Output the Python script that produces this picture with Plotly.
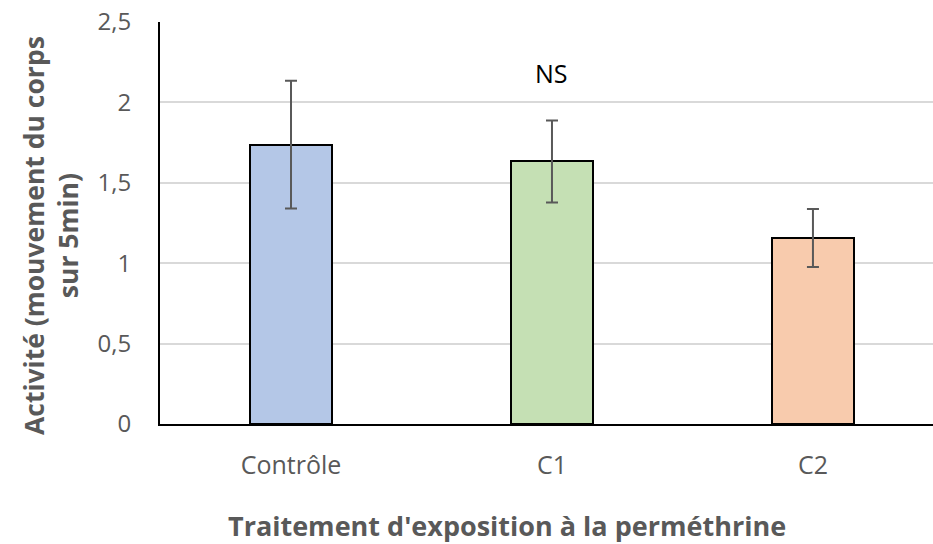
import plotly.graph_objects as go

# Activity per treatment group (mean and error)
categories = ["Contrôle", "C1", "C2"]
means = [1.737, 1.633, 1.157]
errors = [0.397, 0.255, 0.180]
bar_colors = ["#B4C7E7", "#C5E0B4", "#F8CBAD"]
y_ticks = [0, 0.5, 1, 1.5, 2, 2.5]
y_tick_labels = ["0", "0,5", "1", "1,5", "2", "2,5"]

FONT = "Open Sans"
GREY = "#595959"

fig = go.Figure(
    go.Bar(
        x=categories,
        y=means,
        width=0.314,
        marker=dict(color=bar_colors, line=dict(color="black", width=2)),
        error_y=dict(type="data", array=errors, visible=True,
                     color=GREY, thickness=2, width=6),
    )
)

W, H = 933, 544
left, top, bottom = 160, 22, 120
plot_w = W - left
plot_h = H - top - bottom

fig.update_layout(
    width=W,
    height=H,
    margin=dict(l=left, r=0, t=top, b=bottom),
    plot_bgcolor="white",
    paper_bgcolor="white",
    showlegend=False,
    font=dict(family=FONT, color=GREY),
    bargap=0,
)

fig.update_xaxes(
    type="category",
    range=[-0.502, 2.46],
    showline=True, linecolor="black", linewidth=2,
    showgrid=False, ticks="",
    tickfont=dict(size=25, color=GREY, family=FONT),
    ticklabelstandoff=18,
)
fig.update_yaxes(
    range=[0, 2.5],
    tickvals=y_ticks, ticktext=y_tick_labels,
    showline=True, linecolor="black", linewidth=2,
    showgrid=True, gridcolor="#D9D9D9", gridwidth=1.5,
    zeroline=False, ticks="",
    tickfont=dict(size=24, color=GREY, family=FONT),
    ticklabelstandoff=22,
)

# significance label
fig.add_annotation(x="C1", y=2.18, text="NS", showarrow=False,
                   font=dict(size=25, color="black", family=FONT))

# y-axis title
fig.add_annotation(
    xref="paper", yref="paper",
    x=(51 - left) / plot_w, y=(424 - 236) / plot_h,
    xanchor="center", yanchor="middle",
    text="<b>Activité (mouvement du corps<br>sur 5min)</b>",
    textangle=-90, showarrow=False,
    font=dict(size=26.5, color=GREY, family=FONT),
)

# x-axis title
fig.add_annotation(
    xref="paper", yref="paper",
    x=(507 - left) / plot_w, y=-(525 - 424) / plot_h,
    text="<b>Traitement d'exposition à la perméthrine</b>",
    showarrow=False, xanchor="center", yanchor="middle",
    font=dict(size=27, color=GREY, family=FONT),
)

fig.write_html("out.html")
